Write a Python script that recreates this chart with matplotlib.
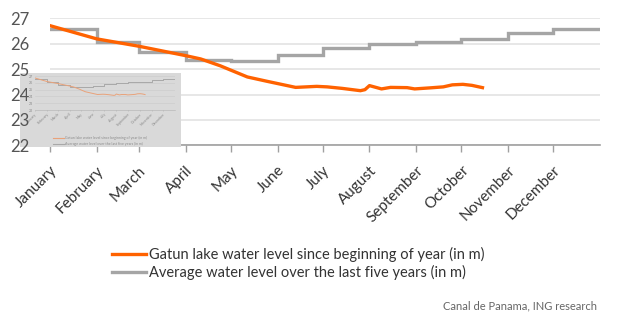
import matplotlib
matplotlib.use("Agg")
import matplotlib.pyplot as plt
from matplotlib.lines import Line2D

# ---------------- data ----------------
months = ["January", "February", "March", "April", "May", "June", "July",
          "August", "September", "October", "November", "December"]
month_start_day = [0, 31, 59, 90, 120, 151, 181, 212, 243, 273, 304, 334]
year_end_day = 365

avg_level = [26.58, 26.05, 25.66, 25.37, 25.33, 25.54, 25.85, 25.99,
             26.05, 26.18, 26.42, 26.58]

gatun_day = [0, 31, 59, 90, 100, 113, 131, 144, 163, 177, 184, 194, 206,
             209, 212, 220, 226, 237, 242, 252, 261, 267, 274, 280, 287]
gatun_level = [26.71, 26.19, 25.90, 25.53, 25.40, 25.13, 24.69, 24.52, 24.28,
               24.32, 24.30, 24.24, 24.15, 24.19, 24.35, 24.22, 24.28, 24.27,
               24.22, 24.26, 24.30, 24.38, 24.40, 24.36, 24.27]

y_ticks = [22, 23, 24, 25, 26, 27]
label_gatun = "Gatun lake water level since beginning of year (in m)"
label_avg = "Average water level over the last five years (in m)"
source = "Canal de Panama, ING research"

ORANGE = "#FF6200"
GREY = "#A5A5A5"
FONT = ["Lato", "DejaVu Sans"]
plt.rcParams["font.family"] = FONT

W, H = 640, 333


def px_rect(x0, y0, x1, y1):
    return [x0 / W, 1 - y1 / H, (x1 - x0) / W, (y1 - y0) / H]


fig = plt.figure(figsize=(W / 100, H / 100), dpi=100)

step_x = month_start_day + [year_end_day]
step_y = avg_level + [avg_level[-1]]

# ---------------- main axes ----------------
ax = fig.add_axes(px_rect(50, 18.3, 600, 145.3), zorder=1)
ax.set_facecolor("none")
ax.plot(step_x, step_y, drawstyle="steps-post", color=GREY, lw=2.4,
        solid_joinstyle="miter", zorder=3)
ax.plot(gatun_day, gatun_level, color=ORANGE, lw=2.4, zorder=4)
ax.set_xlim(0, year_end_day)
ax.set_ylim(22, 27)
ax.set_yticks(y_ticks)
ax.set_yticklabels([])
ax.tick_params(axis="y", length=0)
ax.grid(axis="y", color="#E3E3E3", lw=1.2)
ax.set_axisbelow(True)
for s in ["top", "right", "left"]:
    ax.spines[s].set_visible(False)
ax.spines["bottom"].set_color("#A0A0A0")
ax.spines["bottom"].set_linewidth(1.2)
ax.set_xticks(month_start_day)
ax.set_xticklabels(months, rotation=45, ha="right", rotation_mode="anchor",
                   fontsize=11, color="#333333")
ax.tick_params(axis="x", length=5, width=1, color="#A0A0A0", pad=8)

# ---------------- grey thumbnail (artifact in reference) ----------------
box = fig.add_axes(px_rect(20, 73, 181, 147), zorder=2)
box.set_facecolor("#D9D9D9")
box.set_xticks([]); box.set_yticks([])
for s in box.spines.values():
    s.set_visible(False)

mini = fig.add_axes(px_rect(35, 76, 175, 110), zorder=3)
mini.set_facecolor("none")
mini.plot(step_x, step_y, drawstyle="steps-post", color="#A8A8A8", lw=0.7)
mini.plot(gatun_day, gatun_level, color="#E9A27A", lw=0.7)
mini.set_xlim(0, year_end_day)
mini.set_ylim(22, 27)
mini.set_yticks(y_ticks)
mini.set_yticklabels([str(v) for v in y_ticks], fontsize=2.6, color="#8A8A8A")
mini.tick_params(axis="y", length=0, pad=1.5)
mini.grid(axis="y", color="#C9C9C9", lw=0.4)
for s in ["top", "right", "left"]:
    mini.spines[s].set_visible(False)
mini.spines["bottom"].set_color("#B0B0B0")
mini.spines["bottom"].set_linewidth(0.4)
mini.set_xticks(month_start_day)
mini.set_xticklabels(months, rotation=45, ha="right", rotation_mode="anchor",
                     fontsize=2.6, color="#8A8A8A")
mini.tick_params(axis="x", length=1, width=0.4, color="#B0B0B0", pad=0.5)
mini_handles = [Line2D([], [], color="#E9A27A", lw=0.8),
                Line2D([], [], color="#A8A8A8", lw=0.8)]
fig.legend(mini_handles, [label_gatun, label_avg], loc="upper left",
           bbox_to_anchor=(50 / W, 1 - 133 / H), frameon=False, fontsize=2.6,
           handlelength=3, handletextpad=0.3, labelspacing=0.6,
           labelcolor="#8A8A8A").set_zorder(4)

# ---------------- y tick labels on top ----------------
lab = fig.add_axes(px_rect(50, 18.3, 600, 145.3), zorder=5)
lab.set_facecolor("none")
lab.set_ylim(22, 27)
lab.set_xlim(0, 1)
lab.set_yticks(y_ticks)
lab.set_yticklabels([str(v) for v in y_ticks], fontsize=12, color="#555555")
lab.tick_params(axis="y", length=0, pad=15)
lab.set_xticks([])
for s in lab.spines.values():
    s.set_visible(False)

# ---------------- legend & source ----------------
handles = [Line2D([], [], color=ORANGE, lw=2.4), Line2D([], [], color=GREY, lw=2.4)]
fig.legend(handles, [label_gatun, label_avg], loc="upper left",
           bbox_to_anchor=(99 / W, 1 - 234 / H), frameon=False, fontsize=10.5,
           handlelength=2.3, handletextpad=0.2, labelspacing=0.2,
           labelcolor="#333333")
fig.text(597 / W, 1 - 306 / H, source, ha="right", va="center", fontsize=8,
         color="#666666")

fig.savefig("out.png", dpi=100)
